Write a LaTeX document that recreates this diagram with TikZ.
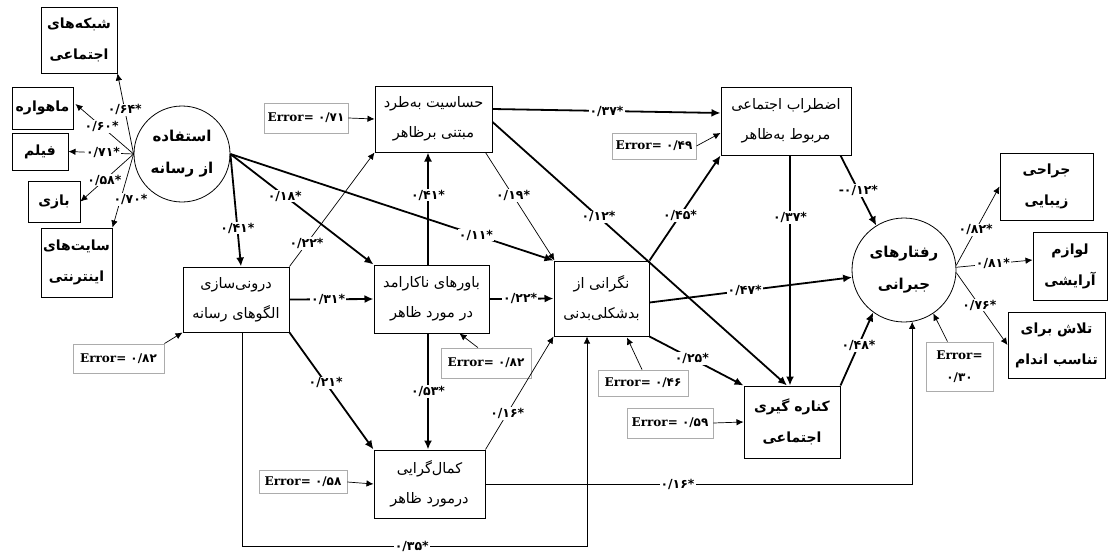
\documentclass[tikz,border=0pt]{standalone}
\usepackage{fontspec}
\usetikzlibrary{arrows.meta,calc}
\newfontfamily\farsi[Script=Arabic]{DejaVu Sans}
\newfontfamily\numfont{DejaVu Sans}
\newfontfamily\errfont{DejaVu Serif}
\TeXXeTstate=1
\newcommand{\fa}[1]{{\farsi\beginR #1\endR}}
\begin{document}
\begin{tikzpicture}[x=1pt,y=-1pt,
  box/.style={draw, line width=1pt, align=center, inner sep=0pt, font=\fontsize{14.5}{30}\selectfont},
  bbox/.style={box, font=\fontsize{14}{31}\selectfont\bfseries},
  circ/.style={draw, circle, line width=0.8pt, align=center, inner sep=0pt, font=\fontsize{15}{32}\selectfont\bfseries},
  err/.style={draw=gray!65, line width=0.9pt, align=center, inner sep=0pt, font=\errfont\fontsize{12}{22}\selectfont\bfseries},
  strong/.style={line width=1.8pt, -{Latex[length=9pt,width=8pt]}},
  weak/.style={line width=0.7pt, -{Latex[length=7pt,width=6.5pt]}},
  lab/.style={fill=white, inner sep=1pt, font=\numfont\fontsize{12.5}{13}\selectfont\bfseries},
]
\useasboundingbox (0,0) rectangle (1108,554);
\fill[white] (0,0) rectangle (1108,554);

% ---- nodes
\node[bbox, minimum width=76, minimum height=66] (sh) at (79,40) {\fa{شبکه^^^^200cهای}\\\fa{اجتماعی}};
\node[bbox, minimum width=61, minimum height=42] (mah) at (42.5,108) {\fa{ماهواره}};
\node[bbox, minimum width=56, minimum height=37] (film) at (40,151.5) {\fa{فیلم}};
\node[bbox, minimum width=52, minimum height=41] (bazi) at (54,201.5) {\fa{بازی}};
\node[bbox, minimum width=71, minimum height=69] (site) at (76.5,262.5) {\fa{سایت^^^^200cهای}\\\fa{اینترنتی}};
\node[circ, minimum size=96] (media) at (182,154) {\fa{استفاده}\\\fa{از رسانه}};

\node[box, minimum width=117, minimum height=66] (hs) at (433.5,119) {\fa{حساسیت به^^^^200cطرد}\\\fa{مبتنی برظاهر}};
\node[err, minimum width=84, minimum height=30] (e71) at (306,118) {Error= {\numfont ۰/۷۱}};
\node[box, minimum width=130, minimum height=68] (ez) at (786,121) {\fa{اضطراب اجتماعی}\\\fa{مربوط به^^^^200cظاهر}};
\node[err, minimum width=84, minimum height=26] (e49) at (654,146) {Error= {\numfont ۰/۴۹}};
\node[box, minimum width=106, minimum height=65] (dr) at (236,299.5) {\fa{درونی^^^^200cسازی}\\\fa{الگوهای رسانه}};
\node[err, minimum width=91, minimum height=29] (e82a) at (118.5,358.5) {Error= {\numfont ۰/۸۲}};
\node[box, minimum width=115, minimum height=68] (bv) at (431.5,299) {\fa{باورهای ناکارامد}\\\fa{در مورد ظاهر}};
\node[err, minimum width=90, minimum height=30] (e82b) at (486,363) {Error= {\numfont ۰/۸۲}};
\node[box, minimum width=95, minimum height=75] (ng) at (601.5,298.5) {\fa{نگرانی از}\\\fa{بدشکلی^^^^200cبدنی}};
\node[err, minimum width=90, minimum height=26] (e46) at (643,383) {Error= {\numfont ۰/۴۶}};
\node[bbox, minimum width=96, minimum height=72] (kn) at (792,422) {\fa{کناره گیری}\\\fa{اجتماعی}};
\node[err, minimum width=86, minimum height=30] (e59) at (670,423) {Error= {\numfont ۰/۵۹}};
\node[box, minimum width=111, minimum height=68] (km) at (429.5,484) {\fa{کمال^^^^200cگرایی}\\\fa{درمورد ظاهر}};
\node[err, minimum width=88, minimum height=23] (e58) at (303,482) {Error= {\numfont ۰/۵۸}};

\node[circ, minimum size=104] (rf) at (904,270) {\fa{رفتارهای}\\\fa{جبرانی}};
\node[bbox, minimum width=93, minimum height=67] (jr) at (1046.5,186.5) {\fa{جراحی}\\\fa{زیبایی}};
\node[bbox, minimum width=74, minimum height=68] (lv) at (1070,266) {\fa{لوازم}\\\fa{آرایشی}};
\node[bbox, minimum width=97, minimum height=66] (tl) at (1056.5,345) {\fa{تلاش برای}\\\fa{تناسب اندام}};
\node[err, minimum width=67, minimum height=49] (e30) at (959.5,366.5) {Error=\\{\numfont ۰/۳۰}};

% ---- media indicators
\draw[weak] (media.west) -- node[lab,pos=.55]{۰/۶۴*} (sh.south east);
\draw[weak] (media.west) -- node[lab,pos=.55]{۰/۶۰*} ($(mah.east)+(2,-4)$);
\draw[weak] (media.west) -- node[lab,pos=.47]{۰/۷۱*} (film.east);
\draw[weak] (media.west) -- node[lab,pos=.55]{۰/۵۸*} (bazi.east);
\draw[weak] (media.west) -- node[lab,pos=.62,xshift=10]{۰/۷۰*} (site.north east);

% ---- structural paths
\draw[strong] (media.east) -- node[lab,pos=.66]{۰/۴۱*} ($(dr.north)+(5,0)$);
\draw[strong] (media.east) -- node[lab,pos=.38]{۰/۱۸*} (bv.north west);
\draw[strong] (media.east) -- node[lab,pos=.76]{۰/۱۱*} (ng.north west);

\draw[weak] (e71.east) -- (hs.west);
\draw[strong] ($(hs.east)+(0,-10)$) -- node[lab,pos=.5]{۰/۳۷*} ($(ez.west)+(0,-8)$);
\draw[weak] (e49.east) -- ($(ez.west)+(0,12)$);
\draw[weak] ($(hs.south east)+(-7,0)$) -- node[lab,pos=.4]{۰/۱۹*} ($(ng.north west)+(1,0)$);
\draw[strong] ($(hs.east)+(0,3)$) -- node[lab,pos=.36]{۰/۱۲*} ($(kn.north)+(-5,0)$);
\draw[strong] ($(bv.north)+(-3.5,0)$) -- node[lab,pos=.62]{۰/۴۱*} ($(hs.south)+(-5.5,0)$);
\draw[weak] (dr.north east) -- node[lab,pos=.2]{۰/۲۲*} (hs.south west);
\draw[strong] (dr.east) -- node[lab,pos=.46]{۰/۳۱*} (bv.west);
\draw[strong] (bv.east) -- node[lab,pos=.48]{۰/۲۲*} (ng.west);
\draw[weak] (e82a.north east) -- (dr.south west);
\draw[weak] ($(e82b.north west)!0.41!(e82b.north east)$) -- ($(bv.south)+(28,0)$);
\draw[strong] ($(bv.south)+(-3.5,0)$) -- node[lab,pos=.5]{۰/۵۳*} ($(km.north)+(-1.5,0)$);
\draw[strong] (dr.south east) -- node[lab,pos=.43]{۰/۲۱*} (km.north west);
\draw[weak] (e58.east) -- (km.west);
\draw[weak] (km.north east) -- node[lab,pos=.32]{۰/۱۶*} (ng.south west);
\draw[weak] ($(dr.south)+(6,0)$) -- ++(0,214) -| node[lab,pos=.246]{۰/۳۵*} ($(ng.south)+(-14.5,0)$);
\draw[weak] (km.east) -- node[lab,pos=.45]{۰/۱۶*} (km.east -| rf.-81) -- (rf.-81);
\draw[weak] ($(e46.north)+(-1,0)$) -- ($(ng.south)+(25.5,1)$);
\draw[strong] (ng.north east) -- node[lab,pos=.43]{۰/۴۵*} (ez.south west);
\draw[strong] ($(ng.east)+(0,4)$) -- node[lab,pos=.47]{۰/۴۷*} (rf.188);
\draw[strong] (ng.south east) -- node[lab,pos=.45]{۰/۲۵*} (kn.north west);
\draw[strong] ($(ez.south)+(4,0)$) -- node[lab,pos=.27]{۰/۳۷*} ($(kn.north)+(-2,0)$);
\draw[strong] ($(ez.south east)+(-11,0)$) -- node[lab,pos=.5]{-۰/۱۲*} (rf.122);
\draw[weak] (e59.east) -- (kn.west);
\draw[strong] (kn.north east) -- node[lab,pos=.55]{۰/۴۸*} (rf.234);
\draw[weak] ($(e30.north)+(-12,0)$) -- (rf.-56);

% ---- outcome indicators
\draw[weak] (rf.5) -- node[lab,pos=.45]{۰/۸۲*} (jr.west);
\draw[weak] (rf.3) -- node[lab,pos=.48]{۰/۸۱*} ($(lv.west)+(0,-6)$);
\draw[weak] (rf.-3) -- node[lab,pos=.45]{۰/۷۶*} (tl.west);
\end{tikzpicture}
\end{document}
